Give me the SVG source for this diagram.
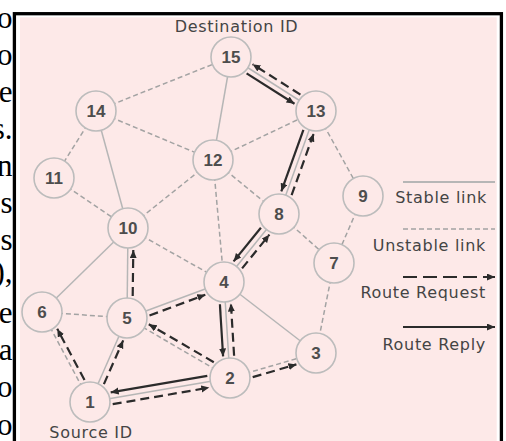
<svg xmlns="http://www.w3.org/2000/svg" width="506" height="441" viewBox="0 0 506 441">
  <defs>
    <marker id="arrow" markerUnits="userSpaceOnUse" markerWidth="9" markerHeight="8" refX="8" refY="3.5" orient="auto">
      <path d="M0,0 L8,3.5 L0,7 z" fill="#2b2b2b"/>
    </marker>
  </defs>
  <style>
    .para { font-family: "Liberation Serif", "Times New Roman", serif; font-size: 31px; fill: #000; text-anchor: end; }
    .lbl { font-family: "DejaVu Sans", Verdana, sans-serif; font-size: 16px; letter-spacing: 0.7px; fill: #444; }
    .num { font-family: "Liberation Sans", Arial, sans-serif; font-size: 17px; font-weight: bold; fill: #4d4d4d; text-anchor: middle; }
    .node circle { fill: #fde9e8; stroke: #bcbcbc; stroke-width: 1.6; }
    .stable { stroke: #b6b6b6; stroke-width: 1.5; fill: none; }
    .unstable { stroke: #a3a3a3; stroke-width: 1.5; stroke-dasharray: 5 3; fill: none; }
    .request { stroke: #2b2b2b; stroke-width: 2.2; stroke-dasharray: 9 5; fill: none; marker-end: url(#arrow); }
    .reply { stroke: #2b2b2b; stroke-width: 2.2; fill: none; marker-end: url(#arrow); }
  </style>

  <!-- clipped paragraph text along the left margin -->
  <g id="margin-text">
    <text class="para" x="12.5" y="28">o</text>
    <text class="para" x="12.5" y="65">o</text>
    <text class="para" x="12.5" y="102">e</text>
    <text class="para" x="12.5" y="139">s.</text>
    <text class="para" x="12.5" y="176">n</text>
    <text class="para" x="12.5" y="213">s</text>
    <text class="para" x="12.5" y="250">s</text>
    <text class="para" x="12.5" y="282">),</text>
    <text class="para" x="12.5" y="323">e</text>
    <text class="para" x="12.5" y="360">a</text>
    <text class="para" x="12.5" y="397">o</text>
    <text class="para" x="12.5" y="435">o</text>
  </g>

  <!-- figure frame -->
  <rect x="14.4" y="13.7" width="487" height="440" fill="#fff" stroke="#000" stroke-width="3.3"/>
  <rect x="20" y="17.3" width="476.7" height="430" fill="#fde9e8"/>

  <!-- links and route messages -->
  <g id="connectors">
    <!-- stable links -->
    <line class="stable" x1="231" y1="57" x2="213" y2="160"/>
    <line class="stable" x1="96" y1="111" x2="128" y2="228"/>
    <line class="stable" x1="128" y1="228" x2="42" y2="312"/>
    <line class="stable" x1="127" y1="318" x2="128" y2="228"/>
    <line class="stable" x1="90" y1="402" x2="127" y2="318"/>
    <line class="stable" x1="127" y1="318" x2="224" y2="282"/>
    <line class="stable" x1="224" y1="282" x2="316" y2="353"/>
    <line class="stable" x1="90" y1="402" x2="230" y2="378"/>
    <line class="stable" x1="230" y1="378" x2="224" y2="282"/>
    <line class="stable" x1="224" y1="282" x2="279" y2="214"/>
    <line class="stable" x1="279" y1="214" x2="316" y2="111"/>
    <line class="stable" x1="231" y1="57" x2="316" y2="111"/>

    <!-- unstable links -->
    <line class="unstable" x1="96" y1="111" x2="231" y2="57"/>
    <line class="unstable" x1="96" y1="111" x2="213" y2="160"/>
    <line class="unstable" x1="96" y1="111" x2="54" y2="178"/>
    <line class="unstable" x1="54" y1="178" x2="128" y2="228"/>
    <line class="unstable" x1="128" y1="228" x2="213" y2="160"/>
    <line class="unstable" x1="128" y1="228" x2="224" y2="282"/>
    <line class="unstable" x1="213" y1="160" x2="316" y2="111"/>
    <line class="unstable" x1="213" y1="160" x2="279" y2="214"/>
    <line class="unstable" x1="213" y1="160" x2="224" y2="282"/>
    <line class="unstable" x1="316" y1="111" x2="363" y2="196"/>
    <line class="unstable" x1="363" y1="196" x2="334" y2="263"/>
    <line class="unstable" x1="279" y1="214" x2="334" y2="263"/>
    <line class="unstable" x1="334" y1="263" x2="316" y2="353"/>
    <line class="unstable" x1="42" y1="312" x2="127" y2="318"/>
    <line class="unstable" x1="230" y1="378" x2="127" y2="318"/>
    <line class="unstable" x1="90" y1="402" x2="42" y2="312"/>
    <line class="unstable" x1="230" y1="378" x2="316" y2="353"/>

    <!-- route request flood -->
    <line class="request" x1="112.7" y1="404.2" x2="209.3" y2="387.6"/>
    <line class="request" x1="103.9" y1="384.1" x2="123.2" y2="340.4"/>
    <line class="request" x1="84.5" y1="380" x2="57.2" y2="328.8"/>
    <line class="request" x1="132.7" y1="296.1" x2="133.3" y2="250.1"/>
    <line class="request" x1="149.5" y1="315.5" x2="205.3" y2="294.8"/>
    <line class="request" x1="213.8" y1="362.2" x2="148.8" y2="324.3"/>
    <line class="request" x1="252.7" y1="377.1" x2="296.4" y2="364.4"/>
    <line class="request" x1="234.1" y1="355.7" x2="230.9" y2="303.6"/>
    <line class="request" x1="242.1" y1="268.4" x2="269.4" y2="234.6"/>
    <line class="request" x1="291.6" y1="195.2" x2="313.7" y2="133.6"/>
    <line class="request" x1="300.4" y1="94.6" x2="252.5" y2="64.2"/>

    <!-- route reply path -->
    <line class="reply" x1="246.6" y1="73.4" x2="294.5" y2="103.8"/>
    <line class="reply" x1="303.4" y1="129.9" x2="281.3" y2="191.4"/>
    <line class="reply" x1="260.9" y1="227.7" x2="233.6" y2="261.4"/>
    <line class="reply" x1="219.9" y1="304.3" x2="223.1" y2="356.4"/>
    <line class="reply" x1="207.3" y1="375.8" x2="110.7" y2="392.4"/>
  </g>

  <!-- nodes -->
  <g id="node-15" class="node"><circle cx="231" cy="57" r="20"/><text class="num" x="231" y="63">15</text></g>
  <g id="node-14" class="node"><circle cx="96" cy="111" r="20"/><text class="num" x="96" y="117">14</text></g>
  <g id="node-13" class="node"><circle cx="316" cy="111" r="20"/><text class="num" x="316" y="117">13</text></g>
  <g id="node-12" class="node"><circle cx="213" cy="160" r="20"/><text class="num" x="213" y="166">12</text></g>
  <g id="node-11" class="node"><circle cx="54" cy="178" r="20"/><text class="num" x="54" y="184">11</text></g>
  <g id="node-9" class="node"><circle cx="363" cy="196" r="20"/><text class="num" x="363" y="202">9</text></g>
  <g id="node-8" class="node"><circle cx="279" cy="214" r="20"/><text class="num" x="279" y="220">8</text></g>
  <g id="node-10" class="node"><circle cx="128" cy="228" r="20"/><text class="num" x="128" y="234">10</text></g>
  <g id="node-7" class="node"><circle cx="334" cy="263" r="20"/><text class="num" x="334" y="269">7</text></g>
  <g id="node-4" class="node"><circle cx="224" cy="282" r="20"/><text class="num" x="224" y="288">4</text></g>
  <g id="node-6" class="node"><circle cx="42" cy="312" r="20"/><text class="num" x="42" y="318">6</text></g>
  <g id="node-5" class="node"><circle cx="127" cy="318" r="20"/><text class="num" x="127" y="324">5</text></g>
  <g id="node-3" class="node"><circle cx="316" cy="353" r="20"/><text class="num" x="316" y="359">3</text></g>
  <g id="node-2" class="node"><circle cx="230" cy="378" r="20"/><text class="num" x="230" y="384">2</text></g>
  <g id="node-1" class="node"><circle cx="90" cy="402" r="20"/><text class="num" x="90" y="408">1</text></g>

  <!-- endpoint captions -->
  <text class="lbl" x="236.5" y="32" text-anchor="middle">Destination ID</text>
  <text class="lbl" x="91" y="438" text-anchor="middle">Source ID</text>

  <!-- legend -->
  <g id="legend">
    <line x1="403" y1="182" x2="495" y2="182" stroke="#b6b6b6" stroke-width="2.2"/>
    <text class="lbl" x="487" y="203" text-anchor="end">Stable link</text>
    <line x1="403" y1="229" x2="495" y2="229" stroke="#a3a3a3" stroke-width="1.5" stroke-dasharray="5 3"/>
    <text class="lbl" x="486" y="251" text-anchor="end">Unstable link</text>
    <line x1="403" y1="277" x2="495" y2="277" stroke="#2b2b2b" stroke-width="2.2" stroke-dasharray="14 6" marker-end="url(#arrow)"/>
    <text class="lbl" x="486" y="298" text-anchor="end">Route Request</text>
    <line x1="403" y1="327" x2="495" y2="327" stroke="#2b2b2b" stroke-width="2.2" marker-end="url(#arrow)"/>
    <text class="lbl" x="486" y="350" text-anchor="end">Route Reply</text>
  </g>
</svg>
